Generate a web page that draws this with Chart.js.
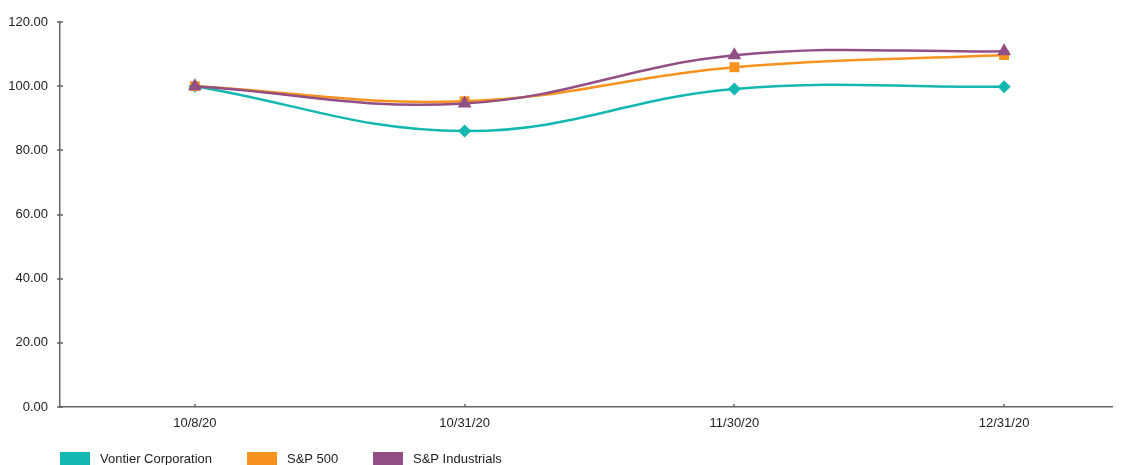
<!DOCTYPE html>
<html>
<head>
<meta charset="utf-8">
<script src="https://cdn.jsdelivr.net/npm/chart.js@4"></script>
<style>
  html, body { margin: 0; padding: 0; background: #fff; }
  #wrap { width: 1124px; height: 465px; position: relative; }
</style>
</head>
<body>
<div id="wrap"><canvas id="perfChart"></canvas></div>
<script>
const dates = ['10/8/20', '10/31/20', '11/30/20', '12/31/20'];
const vontier = [100.0, 86.0, 99.1, 99.8];
const sp500 = [100.0, 95.3, 105.9, 109.7];
const spIndustrials = [100.0, 94.6, 109.6, 110.9];
const yTicks = [0, 20, 40, 60, 80, 100, 120];

const seriesColors = {
    vontier: '#14b8b1',
    sp500: '#f7921e',
    industrials: '#914f86'
};

const fontFamily = '"Liberation Sans", Arial, sans-serif';

function toPoints(values) {
    return values.map(function(v, i) { return { x: i, y: v }; });
}

// Legend drawn along the bottom edge at fixed slots
const bottomLegend = {
    id: 'bottomLegend',
    afterDraw: function(chart) {
        const ctx = chart.ctx;
        const slots = [60, 247, 373];
        ctx.save();
        ctx.font = '13px ' + fontFamily;
        ctx.textBaseline = 'middle';
        chart.data.datasets.forEach(function(ds, i) {
            const x = slots[i];
            const y = 458;
            ctx.fillStyle = ds.borderColor;
            ctx.fillRect(x, y - 6, 30, 13);
            ctx.fillStyle = '#222';
            ctx.fillText(ds.label, x + 40, y + 1);
        });
        ctx.restore();
    }
};

// Tick marks crossing the y axis and sitting on top of the x axis
const axisTicks = {
    id: 'axisTicks',
    afterDraw: function(chart) {
        const ctx = chart.ctx;
        const xs = chart.scales.x, ys = chart.scales.y;
        ctx.save();
        ctx.strokeStyle = '#666';
        ctx.lineWidth = 1.5;
        ctx.beginPath();
        ys.ticks.forEach(function(t) {
            const py = Math.round(ys.getPixelForValue(t.value));
            ctx.moveTo(ys.right - 3, py);
            ctx.lineTo(ys.right + 3, py);
        });
        xs.ticks.forEach(function(t) {
            const px = Math.round(xs.getPixelForValue(t.value));
            ctx.moveTo(px, xs.top);
            ctx.lineTo(px, xs.top - 3);
        });
        ctx.stroke();
        ctx.restore();
    }
};

const commonLine = {
    fill: false,
    tension: 0.4,
    borderWidth: 2.5,
    pointBorderWidth: 0
};

new Chart(document.getElementById('perfChart').getContext('2d'), {
    type: 'line',
    data: {
        datasets: [
            Object.assign({
                label: 'Vontier Corporation',
                data: toPoints(vontier),
                borderColor: seriesColors.vontier,
                backgroundColor: seriesColors.vontier,
                pointStyle: 'rectRot',
                pointRadius: 6.5,
                order: 2
            }, commonLine),
            Object.assign({
                label: 'S&P 500',
                data: toPoints(sp500),
                borderColor: seriesColors.sp500,
                backgroundColor: seriesColors.sp500,
                pointStyle: 'rect',
                pointRadius: 7,
                order: 1
            }, commonLine),
            Object.assign({
                label: 'S&P Industrials',
                data: toPoints(spIndustrials),
                borderColor: seriesColors.industrials,
                backgroundColor: seriesColors.industrials,
                pointStyle: 'triangle',
                pointRadius: 8,
                order: 0
            }, commonLine)
        ]
    },
    options: {
        responsive: true,
        maintainAspectRatio: false,
        animation: false,
        layout: { padding: { top: 22, right: 12, left: 0, bottom: 0 } },
        plugins: {
            legend: { display: false },
            tooltip: { enabled: false }
        },
        scales: {
            x: {
                type: 'linear',
                min: -0.5,
                max: 3.4,
                grid: { display: false, drawTicks: false },
                border: { display: true, color: '#666', width: 1.5 },
                afterBuildTicks: function(scale) {
                    scale.ticks = dates.map(function(d, i) { return { value: i }; });
                },
                ticks: {
                    autoSkip: false,
                    maxRotation: 0,
                    padding: 9,
                    color: '#222',
                    font: { size: 13, family: fontFamily },
                    callback: function(value) { return dates[value]; }
                },
                afterFit: function(scale) { scale.height = 58; }
            },
            y: {
                min: 0,
                max: 120,
                grid: { display: false, drawTicks: false },
                border: { display: true, color: '#666', width: 1.5 },
                afterBuildTicks: function(scale) {
                    scale.ticks = yTicks.map(function(v) { return { value: v }; });
                },
                ticks: {
                    padding: 12,
                    color: '#222',
                    font: { size: 13, family: fontFamily },
                    callback: function(value) { return value.toFixed(2); }
                },
                afterFit: function(scale) { scale.width = 60; }
            }
        }
    },
    plugins: [bottomLegend, axisTicks]
});
</script>
</body>
</html>
